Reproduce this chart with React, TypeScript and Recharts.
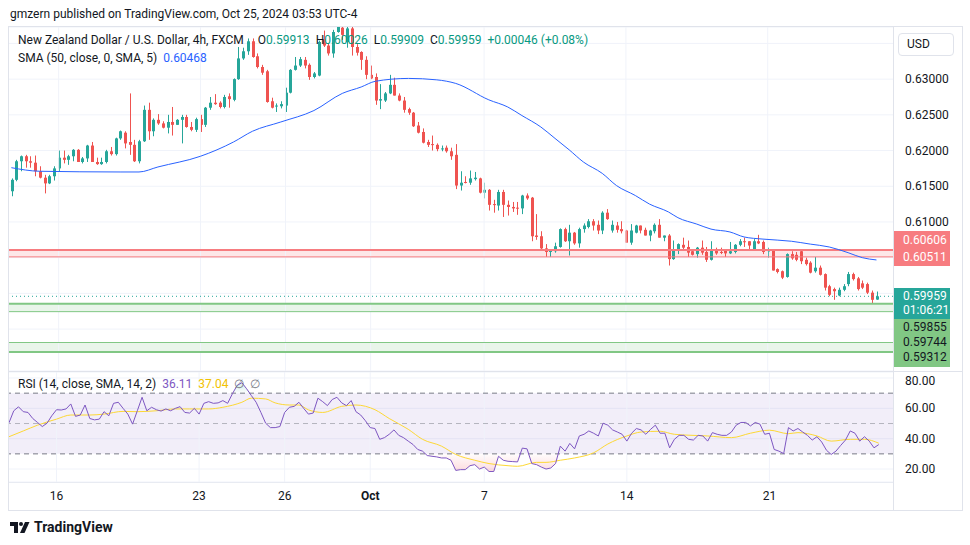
import React from "react";
import {
  Area,
  Bar,
  CartesianGrid,
  ComposedChart,
  Line,
  ReferenceArea,
  ReferenceLine,
  XAxis,
  YAxis,
} from "recharts";

// NZD/USD 4h candles, Sep 13 – Oct 25 2024
const opens = [
  0.6143, 0.6159, 0.6185, 0.6192, 0.6185, 0.6183, 0.6171, 0.6162, 0.6154, 0.6164,
  0.6175, 0.619, 0.6187, 0.6192, 0.6201, 0.6184, 0.6189, 0.6207, 0.6184, 0.6181,
  0.6184, 0.6199, 0.6195, 0.6217, 0.6225, 0.6212, 0.6208, 0.6185, 0.6213, 0.6257,
  0.6227, 0.6243, 0.6238, 0.6232, 0.624, 0.6236, 0.6243, 0.6247, 0.6233, 0.6229,
  0.6244, 0.6236, 0.626, 0.6267, 0.6267, 0.6261, 0.6276, 0.6271, 0.63, 0.6329,
  0.6339, 0.6353, 0.6332, 0.6317, 0.6311, 0.6269, 0.6262, 0.6262, 0.6263, 0.6281,
  0.6313, 0.6319, 0.6327, 0.632, 0.6303, 0.6305, 0.6356, 0.6347, 0.6336, 0.6366,
  0.6372, 0.6352, 0.6371, 0.6345, 0.6338, 0.6327, 0.6306, 0.6303, 0.627, 0.627,
  0.628, 0.6292, 0.6277, 0.627, 0.6258, 0.6253, 0.6235, 0.6226, 0.6212, 0.6209,
  0.6208, 0.6202, 0.6204, 0.6199, 0.6194, 0.6151, 0.6156, 0.6155, 0.616, 0.6161,
  0.6141, 0.6145, 0.6125, 0.6123, 0.6142, 0.6124, 0.6121, 0.612, 0.6119, 0.6137,
  0.6134, 0.6081, 0.608, 0.6063, 0.6058, 0.6059, 0.6065, 0.609, 0.6073, 0.6085,
  0.607, 0.609, 0.6093, 0.6101, 0.6096, 0.6088, 0.6113, 0.6088, 0.6095, 0.609,
  0.6088, 0.6071, 0.6085, 0.6095, 0.6089, 0.6081, 0.6087, 0.6096, 0.6078, 0.6081,
  0.6048, 0.606, 0.6068, 0.6065, 0.6059, 0.6055, 0.6064, 0.6058, 0.6047, 0.6062,
  0.6058, 0.606, 0.6056, 0.6058, 0.6068, 0.6073, 0.6073, 0.6061, 0.6073, 0.6072,
  0.6059, 0.606, 0.6034, 0.6031, 0.6023, 0.6055, 0.6054, 0.6059, 0.6047, 0.6043,
  0.6031, 0.6036, 0.6027, 0.601, 0.6006, 0.5997, 0.6005, 0.6013, 0.6027, 0.6021,
  0.6014, 0.6013, 0.6001, 0.59913,
];
const highs = [
  0.6161, 0.6187, 0.6193, 0.6194, 0.6192, 0.6193, 0.6178, 0.6166, 0.6166, 0.6178,
  0.62, 0.62, 0.6194, 0.6202, 0.6202, 0.6191, 0.6208, 0.6212, 0.619, 0.619,
  0.6201, 0.6205, 0.6218, 0.6228, 0.6227, 0.628, 0.6215, 0.6215, 0.6263, 0.6267,
  0.6245, 0.6251, 0.6241, 0.625, 0.6261, 0.6244, 0.625, 0.625, 0.624, 0.6246,
  0.625, 0.6261, 0.6275, 0.6279, 0.6269, 0.6278, 0.628, 0.6301, 0.6345, 0.6344,
  0.6357, 0.6357, 0.6336, 0.632, 0.6313, 0.6274, 0.6266, 0.6269, 0.6288, 0.6314,
  0.6331, 0.6331, 0.6331, 0.6322, 0.631, 0.6354, 0.6368, 0.635, 0.6369, 0.6378,
  0.6379, 0.6376, 0.6376, 0.6349, 0.6339, 0.6332, 0.6319, 0.6308, 0.6293, 0.6282,
  0.6306, 0.6302, 0.628, 0.6275, 0.626, 0.6254, 0.624, 0.6231, 0.6215, 0.6221,
  0.621, 0.6207, 0.6207, 0.6204, 0.6209, 0.6171, 0.6164, 0.6172, 0.617, 0.6162,
  0.6155, 0.6146, 0.6131, 0.6145, 0.6145, 0.613, 0.6128, 0.6128, 0.6138, 0.614,
  0.6135, 0.6111, 0.6087, 0.6069, 0.6062, 0.6071, 0.6091, 0.6092, 0.6096, 0.6086,
  0.6092, 0.6098, 0.6104, 0.6104, 0.6102, 0.6115, 0.6118, 0.6102, 0.61, 0.6101,
  0.6089, 0.6097, 0.6096, 0.6095, 0.6092, 0.6089, 0.6098, 0.6104, 0.6081, 0.6083,
  0.6074, 0.607, 0.6078, 0.6074, 0.6062, 0.6065, 0.6074, 0.6065, 0.6073, 0.6064,
  0.6064, 0.6062, 0.6072, 0.6069, 0.6076, 0.6078, 0.6073, 0.6076, 0.6082, 0.6074,
  0.6064, 0.6061, 0.6035, 0.6032, 0.6056, 0.6059, 0.6058, 0.6061, 0.605, 0.6045,
  0.6051, 0.6039, 0.6028, 0.6012, 0.6008, 0.6008, 0.6013, 0.603, 0.6029, 0.6023,
  0.6018, 0.6015, 0.6004, 0.60026,
];
const lows = [
  0.6136, 0.6157, 0.6171, 0.6176, 0.6176, 0.6164, 0.6161, 0.614, 0.6153, 0.6158,
  0.617, 0.6182, 0.618, 0.6185, 0.6184, 0.6182, 0.6184, 0.6184, 0.618, 0.618,
  0.6182, 0.6193, 0.6193, 0.6215, 0.6203, 0.6194, 0.6184, 0.6182, 0.6212, 0.6215,
  0.622, 0.6236, 0.6231, 0.6224, 0.6221, 0.6236, 0.621, 0.6232, 0.6227, 0.6226,
  0.6226, 0.6233, 0.6257, 0.6264, 0.6259, 0.6259, 0.626, 0.6269, 0.6299, 0.6327,
  0.6334, 0.633, 0.6315, 0.6306, 0.6267, 0.6259, 0.6254, 0.6259, 0.6254, 0.628,
  0.6312, 0.6317, 0.6315, 0.6299, 0.6301, 0.6304, 0.6345, 0.6333, 0.633, 0.6365,
  0.6355, 0.6344, 0.6333, 0.6333, 0.6313, 0.63, 0.63, 0.6264, 0.6258, 0.6268,
  0.6279, 0.6277, 0.6269, 0.6253, 0.625, 0.6233, 0.6224, 0.621, 0.6205, 0.62,
  0.6199, 0.6199, 0.6197, 0.6187, 0.6146, 0.6144, 0.6154, 0.6152, 0.6158, 0.614,
  0.6133, 0.6116, 0.6113, 0.6116, 0.6107, 0.6109, 0.6114, 0.611, 0.6111, 0.6131,
  0.6073, 0.6075, 0.606, 0.6051, 0.6051, 0.6057, 0.6064, 0.6072, 0.6053, 0.6068,
  0.6064, 0.6085, 0.6091, 0.6088, 0.6083, 0.6083, 0.6103, 0.6085, 0.6085, 0.6084,
  0.6071, 0.6068, 0.6084, 0.6084, 0.6081, 0.6073, 0.6084, 0.6078, 0.6073, 0.6039,
  0.6047, 0.6055, 0.6062, 0.6051, 0.6053, 0.605, 0.6054, 0.6044, 0.6046, 0.6054,
  0.6055, 0.6051, 0.6055, 0.6056, 0.6066, 0.6065, 0.6062, 0.606, 0.6069, 0.6055,
  0.605, 0.6032, 0.6028, 0.602, 0.6022, 0.6047, 0.6045, 0.6041, 0.6039, 0.6028,
  0.6029, 0.6025, 0.6004, 0.5996, 0.5991, 0.5996, 0.6003, 0.601, 0.6018, 0.6004,
  0.6006, 0.5999, 0.5986, 0.59909,
];
const closes = [
  0.6159, 0.6185, 0.6192, 0.6185, 0.6183, 0.6171, 0.6162, 0.6154, 0.6164, 0.6175,
  0.619, 0.6187, 0.6192, 0.6201, 0.6184, 0.6189, 0.6207, 0.6184, 0.6181, 0.6184,
  0.6199, 0.6195, 0.6217, 0.6227, 0.621, 0.6208, 0.6185, 0.6213, 0.6257, 0.6227,
  0.6243, 0.6238, 0.6232, 0.624, 0.6236, 0.6243, 0.6247, 0.6233, 0.6229, 0.6244,
  0.6236, 0.626, 0.6267, 0.6265, 0.6261, 0.6275, 0.6272, 0.63, 0.6329, 0.6339,
  0.6353, 0.6331, 0.6317, 0.6309, 0.6268, 0.626, 0.6263, 0.6265, 0.6281, 0.6313,
  0.6319, 0.6328, 0.6319, 0.6303, 0.6308, 0.6352, 0.6347, 0.6336, 0.6366, 0.6373,
  0.6362, 0.6371, 0.6345, 0.6337, 0.6327, 0.6306, 0.6301, 0.627, 0.6272, 0.628,
  0.6292, 0.6277, 0.627, 0.6257, 0.6253, 0.6234, 0.6225, 0.6211, 0.6208, 0.6208,
  0.6202, 0.6203, 0.6199, 0.6192, 0.6151, 0.6155, 0.6155, 0.6161, 0.6162, 0.6141,
  0.6145, 0.6124, 0.6124, 0.6142, 0.6124, 0.6121, 0.6119, 0.6119, 0.6137, 0.6133,
  0.608, 0.6079, 0.6063, 0.6058, 0.606, 0.6066, 0.609, 0.6073, 0.6085, 0.607,
  0.609, 0.6095, 0.6101, 0.6095, 0.6088, 0.6113, 0.6104, 0.6096, 0.6089, 0.6087,
  0.6071, 0.6088, 0.6095, 0.6088, 0.6081, 0.6088, 0.6096, 0.6078, 0.6081, 0.6048,
  0.6061, 0.6069, 0.6064, 0.6057, 0.6054, 0.6064, 0.6057, 0.6047, 0.6062, 0.6056,
  0.6057, 0.6056, 0.6059, 0.6068, 0.6073, 0.6072, 0.6067, 0.6073, 0.607, 0.6058,
  0.606, 0.6032, 0.603, 0.6022, 0.6055, 0.6049, 0.6047, 0.6045, 0.6041, 0.6029,
  0.6036, 0.6026, 0.6008, 0.5998, 0.6003, 0.6005, 0.601, 0.6027, 0.602, 0.6006,
  0.6008, 0.6001, 0.5991, 0.59959,
];

// SMA(50) read at a few candle positions
const smaIdx = [
  0, 6, 23, 27, 31, 40, 47, 51, 57, 64, 70, 74, 77, 84, 90, 94, 101, 105, 108, 112,
  115, 118, 121, 125, 128, 132, 135, 139, 141, 145, 148, 152, 155, 159, 165, 169, 173, 177, 180, 183,
];
const smaVal = [
  0.6176, 0.6171, 0.617, 0.617, 0.6177, 0.6192, 0.6212, 0.6227, 0.624, 0.6256,
  0.628, 0.6289, 0.6297, 0.6301, 0.6299, 0.6294, 0.6271, 0.6261, 0.6249, 0.6233,
  0.6217, 0.6201, 0.6184, 0.6168, 0.6151, 0.6137, 0.6125, 0.6114, 0.6106, 0.6097,
  0.609, 0.6086, 0.6079, 0.6076, 0.6073, 0.6069, 0.6065, 0.6057, 0.605, 0.60468,
];

// RSI(14), one value per candle
const rsiVals = [
  50.5, 58.4, 61, 57.8, 57.3, 53.3, 50.7, 48, 50.2, 55.1,
  59.1, 58.9, 59.6, 62.9, 54.7, 55.6, 62.2, 53.3, 52.4, 52.9,
  57.8, 55.1, 63.3, 64, 60, 56.2, 49.6, 58.4, 67.3, 58.4,
  60.7, 59.1, 58.2, 59.6, 58.4, 60, 61.1, 57.3, 56.9, 60,
  56.2, 63.3, 64.4, 63.3, 63.6, 65.1, 63.3, 69.6, 75.1, 76.9,
  72.9, 68.4, 64, 57.3, 50.2, 47.3, 47.3, 48, 57.3, 60.7,
  61.3, 64, 60, 56.2, 56.9, 66.7, 64.4, 61.8, 65.8, 67.3,
  63.6, 61.8, 65.1, 57.8, 55.6, 51.8, 47.3, 46.7, 39.6, 40.7,
  42.9, 45.8, 42.2, 40.7, 38.4, 36.2, 32.9, 31.8, 28.9, 28.4,
  28, 27.3, 27.3, 25.8, 19.1, 19.6, 19.6, 22.2, 22.9, 20,
  21.3, 18.4, 18.4, 28.4, 25.8, 25.1, 24.9, 24.7, 33.8, 33.3,
  23.6, 22.9, 21.3, 20, 20.7, 23.6, 35.1, 31.8, 36.9, 33.3,
  41.8, 42.9, 45.1, 43.6, 41.8, 50.2, 48.9, 45.8, 44.4, 42.9,
  38.4, 43.6, 46.7, 45.8, 42.9, 46.2, 48.9, 43.6, 43.6, 34,
  39.6, 42.2, 42.2, 39.6, 39.1, 42.2, 41.8, 38.4, 44, 42.9,
  42.2, 42.2, 44.4, 48.9, 50.7, 50.7, 48.4, 50.7, 49.6, 42.9,
  43.6, 32.9, 31.8, 30.2, 47.3, 45.1, 46.7, 44.4, 42.2, 39.1,
  41.3, 37.8, 32.4, 29.6, 31.8, 35.6, 39.1, 45.1, 43.6, 38.4,
  41.3, 38.4, 34, 36.11,
];

// RSI-based MA(14), read at a few candle positions
const rsiMaIdx = [
  0, 3, 6, 10, 13, 17, 20, 24, 27, 31, 35, 38, 42, 45, 49, 51, 54, 56, 59, 61,
  63, 66, 70, 73, 77, 80, 84, 87, 91, 94, 98, 101, 105, 107, 111, 113, 116, 119, 123, 126,
  130, 133, 137, 140, 147, 152, 156, 160, 164, 166, 170, 173, 177, 180, 183,
];
const rsiMaVal = [
  41.3, 45.1, 48.9, 52.9, 55.6, 55.6, 56.2, 58, 57.8, 58.4, 59.6, 59.6, 59.6, 60.7, 64, 66.7, 66.2, 63.6, 62.2, 62.2,
  59, 57.3, 61.3, 62.2, 59.1, 53.3, 46.2, 39.6, 35.1, 29.6, 25.8, 23.6, 22.2, 21.8, 24.4, 24.4, 25.8, 27.3, 30.7, 36.5,
  41.8, 44.4, 44.9, 42.9, 41.8, 40.7, 43.6, 45.6, 43.3, 44, 41.8, 38.4, 39.6, 39.6, 37.04,
];

const dayIdx = [10, 40, 58, 76, 100, 130, 160];
const dayLabels = ["16", "23", "26", "Oct", "7", "14", "21"];

const priceTicks = [0.59, 0.595, 0.6, 0.605, 0.61, 0.615, 0.62, 0.625, 0.63, 0.635];
const priceTicksShown = ["0.61000", "0.61500", "0.62000", "0.62500", "0.63000"];
const rsiTicks = [20, 40, 60, 80];

const resistTop = 0.60606;
const resistBot = 0.60511;
const supportA = [0.59744, 0.59855];
const supportB = [0.5918, 0.59312];
const lastPrice = 0.59959;

const PAD = 3;
const UP = "#26a69a";
const DOWN = "#ef5350";
const GRID = "#f0f3fa";
const FONT = "Roboto, 'Noto Sans', sans-serif";

const smaMap = new Map(smaIdx.map((k, n) => [k, smaVal[n]]));
const rsiMaMap = new Map(rsiMaIdx.map((k, n) => [k, rsiMaVal[n]]));

const rows = Array.from({ length: opens.length + PAD }, (_, i) => {
  const has = i < opens.length;
  const r = has ? rsiVals[i] : null;
  return {
    i,
    o: has ? opens[i] : null,
    h: has ? highs[i] : null,
    l: has ? lows[i] : null,
    c: has ? closes[i] : null,
    range: has ? [lows[i], highs[i]] : null,
    sma: smaMap.get(i) ?? null,
    rsi: r,
    rsiMa: rsiMaMap.get(i) ?? null,
    os: r == null ? null : [Math.min(r, 30), 30],
    ob: r == null ? null : [70, Math.max(r, 70)],
  };
});

function Candle(props: any) {
  const { x, y, width, height, payload } = props;
  if (!payload || payload.o == null || x == null || y == null) return null;
  const { o, h, l, c } = payload;
  const color = c >= o ? UP : DOWN;
  const top = Math.min(y, y + height);
  const hgt = Math.abs(height);
  const span = h - l;
  const toY = (v: number) => (span > 0 ? top + ((h - v) / span) * hgt : top);
  const bTop = toY(Math.max(o, c));
  const bBot = toY(Math.min(o, c));
  const cx = Math.round(x + width / 2);
  return (
    <g>
      <line x1={cx + 0.5} x2={cx + 0.5} y1={top} y2={top + hgt} stroke={color} strokeWidth={1} />
      <rect x={cx - 1} y={bTop} width={3} height={Math.max(1, bBot - bTop)} fill={color} />
    </g>
  );
}

function PriceTick(props: any) {
  const label = Number(props.payload.value).toFixed(5);
  if (!priceTicksShown.includes(label)) return null;
  return (
    <text x={props.x + 4} y={props.y} dy={4} fontSize={12} fill="#131722" fontFamily={FONT}>
      {label}
    </text>
  );
}

function RsiTick(props: any) {
  return (
    <text x={props.x + 4} y={props.y} dy={4} fontSize={12} fill="#131722" fontFamily={FONT}>
      {Number(props.payload.value).toFixed(2)}
    </text>
  );
}

function DayTick(props: any) {
  const k = dayIdx.indexOf(props.payload.value);
  if (k < 0) return null;
  const label = dayLabels[k];
  return (
    <text x={props.x} y={props.y} dy={10} textAnchor="middle" fontSize={12} fill="#131722" fontFamily={FONT} fontWeight={label === "Oct" ? 700 : 400}>
      {label}
    </text>
  );
}

function AxisLabel({ top, text, color }: { top: number; text: string; color: string }) {
  return (
    <div style={{ position: "absolute", left: 903, top: top - 8, height: 16, lineHeight: "16px", fontSize: 12, color }}>{text}</div>
  );
}

const item = { marginRight: 6 };
const val = { color: "#089981" };

export default function App() {
  return (
    <div style={{ position: "relative", width: 970, height: 545, background: "#fff", fontFamily: FONT, color: "#131722", overflow: "hidden" }}>
      <style>{"body{margin:0}"}</style>

      <div style={{ position: "absolute", left: 10, top: 7, fontSize: 12, color: "#131722" }}>
        gmzern published on TradingView.com, Oct 25, 2024 03:53 UTC-4
      </div>

      {/* frame */}
      <div style={{ position: "absolute", left: 8, top: 26, width: 955, height: 485, border: "1px solid #e0e3eb", boxSizing: "border-box" }} />

      <div style={{ position: "absolute", left: 9, top: 27 }}>
        <ComposedChart width={954} height={344} data={rows} margin={{ top: 0, right: 0, bottom: 0, left: 0 }}>
          <CartesianGrid stroke={GRID} vertical={false} />
          <XAxis dataKey="i" type="category" hide />
          <YAxis
            orientation="right"
            width={70}
            domain={[0.58913, 0.6373]}
            allowDataOverflow
            ticks={priceTicks}
            tick={<PriceTick />}
            axisLine={false}
            tickLine={false}
          />
          {dayIdx.map((d) => (
            <ReferenceLine key={d} x={d} stroke={GRID} />
          ))}
          <ReferenceArea y1={resistBot} y2={resistTop} fill="#f23645" fillOpacity={0.12} stroke="none" />
          <ReferenceLine y={resistTop} stroke="#f77c80" strokeWidth={2} />
          <ReferenceLine y={resistBot} stroke="#f77c80" strokeWidth={1} />
          <ReferenceArea y1={supportA[0]} y2={supportA[1]} fill="#4caf50" fillOpacity={0.12} stroke="none" />
          <ReferenceLine y={supportA[1]} stroke="#81c784" strokeWidth={2} />
          <ReferenceLine y={supportA[0]} stroke="#81c784" strokeWidth={1} />
          <ReferenceArea y1={supportB[0]} y2={supportB[1]} fill="#4caf50" fillOpacity={0.12} stroke="none" />
          <ReferenceLine y={supportB[1]} stroke="#81c784" strokeWidth={1} />
          <ReferenceLine y={supportB[0]} stroke="#81c784" strokeWidth={2} />
          <ReferenceLine y={lastPrice} stroke={UP} strokeDasharray="1 3" />
          <Line dataKey="sma" type="monotone" stroke="#2962ff" strokeWidth={1} dot={false} connectNulls isAnimationActive={false} />
          <Bar dataKey="range" barSize={3} shape={(p: any) => <Candle {...p} />} isAnimationActive={false} />
        </ComposedChart>
      </div>

      {/* price pane legend */}
      <div style={{ position: "absolute", left: 18, top: 33, fontSize: 12, whiteSpace: "pre" }}>
        <span style={{ marginRight: 14 }}>New Zealand Dollar / U.S. Dollar, 4h, FXCM</span>
        <span style={item}>O<span style={val}>0.59913</span></span>
        <span style={item}>H<span style={val}>0.60026</span></span>
        <span style={item}>L<span style={val}>0.59909</span></span>
        <span style={item}>C<span style={val}>0.59959</span></span>
        <span style={val}>+0.00046 (+0.08%)</span>
      </div>
      <div style={{ position: "absolute", left: 18, top: 51, fontSize: 12, whiteSpace: "pre" }}>
        <span>SMA (50, close, 0, SMA, 5)  </span>
        <span style={{ color: "#2962ff" }}>0.60468</span>
      </div>

      {/* pane separators */}
      <div style={{ position: "absolute", left: 8, top: 371, width: 955, height: 1, background: "#e0e3eb" }} />
      <div style={{ position: "absolute", left: 893, top: 27, width: 1, height: 483, background: "#e0e3eb" }} />
      <div style={{ position: "absolute", left: 9, top: 482, width: 884, height: 1, background: "#e0e3eb" }} />

      <div style={{ position: "absolute", left: 9, top: 372 }}>
        <ComposedChart width={954} height={139} data={rows} margin={{ top: 0, right: 0, bottom: 0, left: 0 }}>
          <defs>
            <linearGradient id="osFill" x1="0" y1="0" x2="0" y2="1">
              <stop offset="0%" stopColor="#f23645" stopOpacity={0.02} />
              <stop offset="100%" stopColor="#f23645" stopOpacity={0.3} />
            </linearGradient>
            <linearGradient id="obFill" x1="0" y1="0" x2="0" y2="1">
              <stop offset="0%" stopColor="#089981" stopOpacity={0.3} />
              <stop offset="100%" stopColor="#089981" stopOpacity={0.02} />
            </linearGradient>
          </defs>
          <CartesianGrid stroke={GRID} vertical={false} />
          <XAxis
            dataKey="i"
            type="category"
            ticks={dayIdx}
            interval={0}
            tick={<DayTick />}
            axisLine={false}
            tickLine={false}
            height={29}
          />
          <YAxis
            orientation="right"
            width={70}
            domain={[11.46, 83.95]}
            allowDataOverflow
            ticks={rsiTicks}
            tick={<RsiTick />}
            axisLine={false}
            tickLine={false}
          />
          {dayIdx.map((d) => (
            <ReferenceLine key={d} x={d} stroke={GRID} />
          ))}
          <ReferenceArea y1={30} y2={70} fill="#7e57c2" fillOpacity={0.1} stroke="none" />
          <ReferenceLine y={70} stroke="#787b86" strokeDasharray="5 4" />
          <ReferenceLine y={50} stroke="#787b86" strokeOpacity={0.5} strokeDasharray="5 4" />
          <ReferenceLine y={30} stroke="#787b86" strokeDasharray="5 4" />
          <Area dataKey="os" type="linear" stroke="none" fill="url(#osFill)" isAnimationActive={false} />
          <Area dataKey="ob" type="linear" stroke="none" fill="url(#obFill)" isAnimationActive={false} />
          <Line dataKey="rsiMa" type="monotone" stroke="#fdd835" strokeWidth={1} dot={false} connectNulls isAnimationActive={false} />
          <Line dataKey="rsi" type="linear" stroke="#7e57c2" strokeWidth={1} dot={false} isAnimationActive={false} />
        </ComposedChart>
      </div>

      <div style={{ position: "absolute", left: 18, top: 377, fontSize: 12, whiteSpace: "pre" }}>
        <span>RSI (14, close, SMA, 14, 2)  </span>
        <span style={{ color: "#7e57c2" }}>36.11  </span>
        <span style={{ color: "#f2c200" }}>37.04  </span>
        <span style={{ color: "#787b86" }}>∅  ∅</span>
      </div>

      {/* right scale labels */}
      <div style={{ position: "absolute", left: 898, top: 33, width: 56, height: 23, border: "1px solid #e0e3eb", borderRadius: 4, boxSizing: "border-box", fontSize: 12, lineHeight: "21px", paddingLeft: 8 }}>
        USD
      </div>
      <div style={{ position: "absolute", left: 894, top: 231, width: 56, height: 35, background: "#f77c80" }} />
      <AxisLabel top={240} text="0.60606" color="#fff" />
      <AxisLabel top={257} text="0.60511" color="#fff" />
      <div style={{ position: "absolute", left: 894, top: 288, width: 56, height: 31, background: UP }} />
      <AxisLabel top={296} text="0.59959" color="#fff" />
      <AxisLabel top={310} text="01:06:21" color="#fff" />
      <div style={{ position: "absolute", left: 894, top: 319, width: 56, height: 48, background: "#81c784" }} />
      <AxisLabel top={327} text="0.59855" color="#131722" />
      <AxisLabel top={342} text="0.59744" color="#131722" />
      <AxisLabel top={357} text="0.59312" color="#131722" />

      {/* logo */}
      <div style={{ position: "absolute", left: 10, top: 519, display: "flex", alignItems: "center", gap: 4 }}>
        <svg width="20" height="14" viewBox="0 0 20 14">
          <path d="M0 2h8v11H4V6H0z" fill="#131722" />
          <circle cx="11" cy="4" r="2" fill="#131722" />
          <path d="M15 2h4.5l-5 11H10z" fill="#131722" />
        </svg>
        <span style={{ fontSize: 14, fontWeight: 700, color: "#131722" }}>TradingView</span>
      </div>
    </div>
  );
}
